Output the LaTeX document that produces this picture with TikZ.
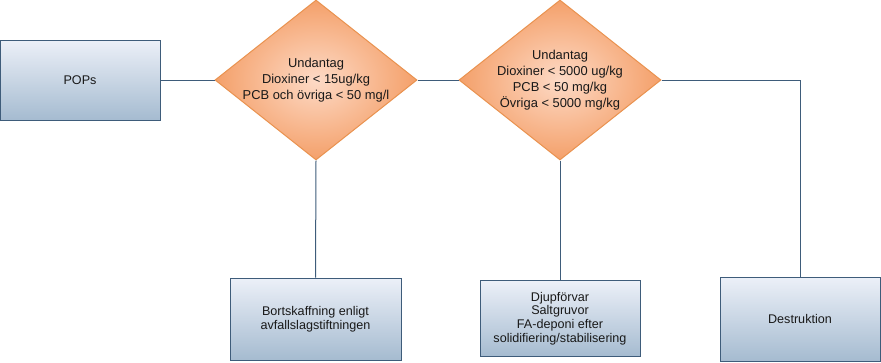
\documentclass[tikz,border=0pt]{standalone}
\usepackage{fontspec}
\setmainfont{Liberation Sans}
\usetikzlibrary{shapes.geometric}
\definecolor{ink}{RGB}{25,25,25}
\definecolor{edge}{RGB}{62,92,122}
\definecolor{boxtop}{RGB}{236,240,248}
\definecolor{boxbot}{RGB}{165,187,208}
\definecolor{rim}{RGB}{233,146,79}
\definecolor{orangeout}{RGB}{244,160,106}
\definecolor{orangein}{RGB}{253,218,198}
\tikzset{
  every picture/.style={x=1pt, y=-1pt, line width=1pt, text=ink},
  box/.style={draw=edge, top color=boxtop, bottom color=boxbot, inner sep=0pt, align=center, font=\fontsize{12.6}{13.6}\selectfont},
  gate/.style={diamond, draw=rim, shading=radial, inner color=orangein, outer color=orangeout, inner sep=0pt, minimum width=202pt, minimum height=160pt},
  gatetext/.style={align=center, inner sep=0pt, font=\fontsize{12.9}{16}\selectfont},
  link/.style={draw=edge},
}
\begin{document}
\begin{tikzpicture}
  \useasboundingbox (0,0) rectangle (881,362);
  % boxes
  \node[box, minimum width=160pt, minimum height=80pt] (pops) at (80,80) {POPs};
  \node[box, minimum width=171pt, minimum height=82pt] (bort) at (315.5,319) {Bortskaffning enligt\\avfallslagstiftningen};
  \node[box, minimum width=160pt, minimum height=76pt] (djup) at (560,318.5) {Djupförvar\\Saltgruvor\\FA-deponi efter\\solidifiering/stabilisering};
  \node[box, minimum width=160pt, minimum height=84pt] (dest) at (800,319) {Destruktion};
  % decisions
  \node[gate] (low) at (316,80) {};
  \node[gatetext] at (low) {Undantag\\Dioxiner < 15ug/kg\\PCB och övriga < 50 mg/l};
  \node[gate] (high) at (560,80) {};
  \node[gatetext] at (high) {Undantag\\Dioxiner < 5000 ug/kg\\PCB < 50 mg/kg\\Övriga < 5000 mg/kg};
  % connectors
  \draw[link] (pops.east) -- (low.west);
  \draw[link] (low.east) -- (high.west);
  \draw[link] (high.east) -| (dest.north);
  \draw[link] (low.south) -- (bort.north);
  \draw[link] (high.south) -- (djup.north);
\end{tikzpicture}
\end{document}
